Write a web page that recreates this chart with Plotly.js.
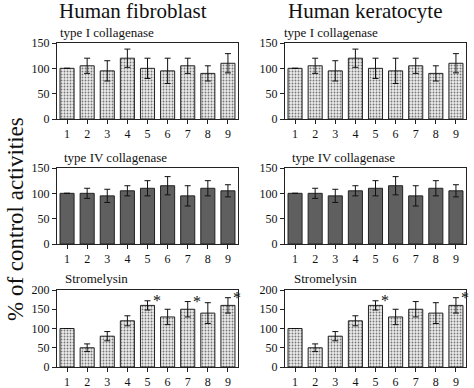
<!DOCTYPE html>
<html><head><meta charset="utf-8">
<script src="https://cdn.plot.ly/plotly-3.0.1.min.js"></script>
<style>body{margin:0;background:#fff}#chart{width:474px;height:388px}</style>
</head><body><div id="chart"></div>
<script>
const categories = [1,2,3,4,5,6,7,8,9];
const tickLabels = ['1','2','3','4','5','6','7','8','9'];

const colITitle = 'type I collagenase';
const colIVTitle = 'type IV collagenase';
const stromTitle = 'Stromelysin';

// Human fibroblast
const fibColI = [100,105,95,120,100,95,105,90,110];
const fibColIErr = [0,15,20,18,20,25,15,15,19];
const fibColIV = [100,100,95,105,110,115,95,110,105];
const fibColIVErr = [0,10,13,10,15,18,20,15,12];
const fibStrom = [100,50,80,120,160,130,150,140,160];
const fibStromErr = [0,10,12,13,12,20,20,27,20];
const fibStromSig = [0,0,0,0,1,0,1,0,1];

// Human keratocyte
const kerColI = [100,105,95,120,100,95,105,90,110];
const kerColIErr = [0,15,20,18,20,25,15,15,19];
const kerColIV = [100,100,95,105,110,115,95,110,105];
const kerColIVErr = [0,10,13,10,15,18,20,15,12];
const kerStrom = [100,50,80,120,160,130,150,140,160];
const kerStromErr = [0,10,12,13,12,20,20,27,20];
const kerStromSig = [0,0,0,0,1,0,0,0,1];

const serif = '"Liberation Serif", "Times New Roman", serif';
const light = {color:'#dcdcdc', line:{color:'#222', width:1},
  pattern:{shape:'.', fgcolor:'#777', bgcolor:'#ececec', size:3, solidity:0.3}};
const dark = {color:'#5f5f5f', line:{color:'#222', width:1}};

function bar(y, err, ax, marker){
  return {type:'bar', x:categories, y:y, xaxis:'x'+ax, yaxis:'y'+ax,
    marker:marker, showlegend:false, hoverinfo:'skip',
    error_y:{type:'data', array:err, visible:true, color:'#111', thickness:1, width:3}};
}
const data = [
  bar(fibColI, fibColIErr, '', light),
  bar(kerColI, kerColIErr, '2', light),
  bar(fibColIV, fibColIVErr, '3', dark),
  bar(kerColIV, kerColIVErr, '4', dark),
  bar(fibStrom, fibStromErr, '5', light),
  bar(kerStrom, kerStromErr, '6', light)
];

const W = 474, H = 388;
const xL = [57/W, 238/W], xR = [285/W, 466/W];
const yTop = [1-119/H, 1-43/H], yMid = [1-244/H, 1-168/H], yBot = [1-367/H, 1-290/H];

function xa(dom, anchor){
  return {domain:dom, anchor:anchor, range:[0.5,9.5], tickvals:categories, ticktext:tickLabels,
    showline:true, mirror:true, linecolor:'#222', linewidth:1, ticks:'outside', ticklen:4,
    tickcolor:'#222', showgrid:false, zeroline:false,
    tickfont:{family:serif, size:12, color:'#111'}, fixedrange:true};
}
function ya(dom, anchor, max){
  return {domain:dom, anchor:anchor, range:[0,max], dtick:50, tick0:0,
    showline:true, mirror:true, linecolor:'#222', linewidth:1, ticks:'outside', ticklen:4,
    tickcolor:'#222', showgrid:false, zeroline:false,
    tickfont:{family:serif, size:12, color:'#111'}, fixedrange:true};
}

const annotations = [
  {text:'Human fibroblast', xref:'paper', yref:'paper', x:133/W, y:1-11/H, showarrow:false,
   font:{family:serif, size:21, color:'#111'}, xanchor:'center', yanchor:'middle'},
  {text:'Human keratocyte', xref:'paper', yref:'paper', x:365/W, y:1-11/H, showarrow:false,
   font:{family:serif, size:21, color:'#111'}, xanchor:'center', yanchor:'middle'},
  {text:'% of control activities', xref:'paper', yref:'paper', x:15/W, y:1-219/H, showarrow:false,
   textangle:-90, font:{family:serif, size:23, color:'#111'}, xanchor:'center', yanchor:'middle'},
  {text:colITitle, xref:'paper', yref:'paper', x:58/W, y:1-32/H, showarrow:false, xanchor:'left', yanchor:'middle', font:{family:serif, size:13, color:'#111'}},
  {text:colITitle, xref:'paper', yref:'paper', x:282/W, y:1-32/H, showarrow:false, xanchor:'left', yanchor:'middle', font:{family:serif, size:13, color:'#111'}},
  {text:colIVTitle, xref:'paper', yref:'paper', x:62/W, y:1-157/H, showarrow:false, xanchor:'left', yanchor:'middle', font:{family:serif, size:13, color:'#111'}},
  {text:colIVTitle, xref:'paper', yref:'paper', x:290/W, y:1-157/H, showarrow:false, xanchor:'left', yanchor:'middle', font:{family:serif, size:13, color:'#111'}},
  {text:stromTitle, xref:'paper', yref:'paper', x:63/W, y:1-278/H, showarrow:false, xanchor:'left', yanchor:'middle', font:{family:serif, size:13, color:'#111'}},
  {text:stromTitle, xref:'paper', yref:'paper', x:292/W, y:1-278/H, showarrow:false, xanchor:'left', yanchor:'middle', font:{family:serif, size:13, color:'#111'}}
];
function stars(sig, vals, errs, ax){
  sig.forEach((s,i)=>{ if(s) annotations.push({text:'*', xref:'x'+ax, yref:'y'+ax,
    x:categories[i], y:vals[i]+errs[i], showarrow:false, xanchor:'left', yanchor:'middle',
    xshift:3, yshift:0, font:{family:serif, size:16, color:'#111'}}); });
}
stars(fibStromSig, fibStrom, fibStromErr, '5');
stars(kerStromSig, kerStrom, kerStromErr, '6');

const layout = {
  width:W, height:H, margin:{l:0,r:0,t:0,b:0}, paper_bgcolor:'#fff', plot_bgcolor:'#fff',
  bargap:0.3, showlegend:false,
  xaxis:xa(xL,'y'), yaxis:ya(yTop,'x',150),
  xaxis2:xa(xR,'y2'), yaxis2:ya(yTop,'x2',150),
  xaxis3:xa(xL,'y3'), yaxis3:ya(yMid,'x3',150),
  xaxis4:xa(xR,'y4'), yaxis4:ya(yMid,'x4',150),
  xaxis5:xa(xL,'y5'), yaxis5:ya(yBot,'x5',200),
  xaxis6:xa(xR,'y6'), yaxis6:ya(yBot,'x6',200),
  annotations:annotations
};
Plotly.newPlot('chart', data, layout, {staticPlot:true, displayModeBar:false});
</script></body></html>
